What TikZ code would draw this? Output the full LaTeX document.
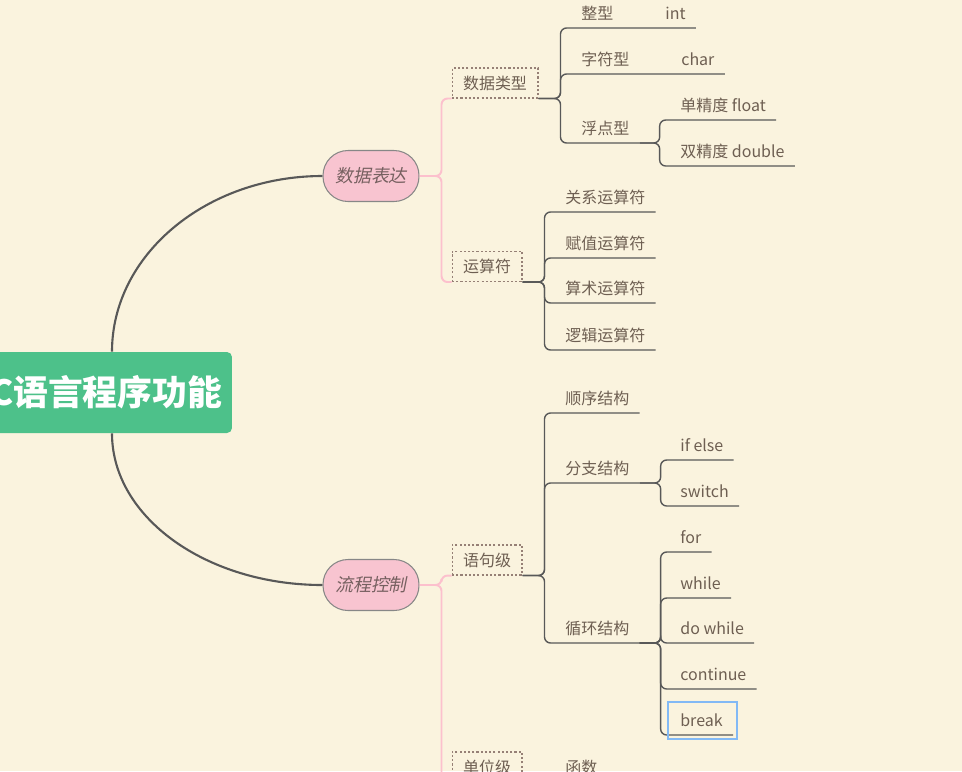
\documentclass[tikz,border=0pt]{standalone}
\usepackage{fontspec}
\setmainfont{Noto Sans CJK SC}
\newfontfamily\topicfont[FakeSlant=0.2]{Noto Sans CJK SC}
\definecolor{bgCream}{RGB}{250,243,222}
\definecolor{rootGreen}{RGB}{77,193,138}
\definecolor{nodePink}{RGB}{248,196,208}
\definecolor{nodeEdge}{RGB}{135,135,135}
\definecolor{linePink}{RGB}{252,192,205}
\definecolor{lineDark}{RGB}{88,88,88}
\definecolor{labelText}{RGB}{110,95,82}
\definecolor{topicText}{RGB}{118,96,96}
\definecolor{boxEdge}{RGB}{150,128,118}
\definecolor{selBlue}{RGB}{130,185,245}

\begin{document}
\begin{tikzpicture}[x=0.02cm,y=-0.02cm,
    root/.style={fill=rootGreen,rounded corners=0.1cm,minimum width=5.04cm,minimum height=1.62cm,inner xsep=0pt,text=white,font=\bfseries\fontsize{19.8pt}{22pt}\selectfont},
    main/.style={draw=nodeEdge,fill=nodePink,line width=0.6pt,rounded corners=0.5cm,minimum width=1.92cm,minimum height=1.02cm,text=topicText,font=\topicfont\fontsize{10.2pt}{12pt}\selectfont},
    sub/.style={draw=boxEdge,line width=0.6pt,dash pattern=on 1.2pt off 1.2pt,inner xsep=0.22cm,inner ysep=0pt,minimum height=0.6cm,text=labelText,font=\fontsize{9.1pt}{11pt}\selectfont},
    lbl/.style={anchor=south west,inner xsep=0.2cm,inner ysep=0pt,text height=0.3cm,text depth=0.16cm,text=labelText,font=\fontsize{9.1pt}{11pt}\selectfont},
    trunk/.style={draw=lineDark,line width=1.2pt},
    pk/.style={draw=linePink,line width=1.1pt,rounded corners=0.12cm},
    br/.style={draw=lineDark,line width=0.8pt,rounded corners=0.12cm},
    selbox/.style={draw=selBlue,line width=1.1pt}
  ]
    \fill[bgCream] (0,0) rectangle (962,771);
    \useasboundingbox (0,0) rectangle (962,771);

    \node (root) at (106,392.5) [root] {C语言程序功能};
    \node (sjbd) at (371,176) [main] {数据表达};
    \node (lckz) at (371,585) [main] {流程控制};

    \draw[trunk] ([shift={(6,0)}]root.north) .. controls +(0,-97) and +(-116,0) .. (sjbd.west);
    \draw[trunk] ([shift={(6,0)}]root.south) .. controls +(0,84) and +(-116,0) .. (lckz.west);

    \node (sjlx) at (495,83) [sub] {数据类型};
    \node (ysf) at (487,266.5) [sub] {运算符};
    \node (yjj) at (487,560) [sub] {语句级};
    \node (dwj) at (487,767) [sub] {单位级};

    \draw[pk] (sjbd.east) -- ++(22,0) |- (sjlx.south west);
    \draw[pk] (sjbd.east) -- ++(22,0) |- (ysf.south west);
    \draw[pk] (lckz.east) -- ++(22,0) |- (yjj.south west);
    \draw[pk] (lckz.east) -- ++(22,0) |- (dwj.south west);

    \node (zx) at (571,28) [lbl] {整型};
    \node (int) at (655,28) [lbl] {int};
    \node (zfx) at (571,74) [lbl] {字符型};
    \node (chr) at (671,74) [lbl] {char};
    \node (fdx) at (571,143) [lbl] {浮点型};
    \node (dj) at (670,120) [lbl] {单精度 float};
    \node (sj) at (670,166) [lbl] {双精度 double};

    \draw[br] (sjlx.south east) -- ++(22,0) |- (zx.south east) -- (int.south east);
    \draw[br] (sjlx.south east) -- ++(22,0) |- (zfx.south east) -- (chr.south east);
    \draw[br] (sjlx.south east) -- ++(22,0) |- (fdx.south east);
    \draw[br] (fdx.south east) -- ++(20,0) |- (dj.south east);
    \draw[br] (fdx.south east) -- ++(20,0) |- (sj.south east);

    \node (gxys) at (555,212) [lbl] {关系运算符};
    \node (fzys) at (555,258) [lbl] {赋值运算符};
    \node (ssys) at (555,303) [lbl] {算术运算符};
    \node (ljys) at (555,350) [lbl] {逻辑运算符};

    \draw[br] (ysf.south east) -- ++(22,0) |- (gxys.south east);
    \draw[br] (ysf.south east) -- ++(22,0) |- (fzys.south east);
    \draw[br] (ysf.south east) -- ++(22,0) |- (ssys.south east);
    \draw[br] (ysf.south east) -- ++(22,0) |- (ljys.south east);

    \node (sxjg) at (555,413) [lbl] {顺序结构};
    \node (fzjg) at (555,483) [lbl] {分支结构};
    \node (xhjg) at (555,643) [lbl] {循环结构};
    \node (ife) at (670,460) [lbl] {if else};
    \node (swt) at (670,506) [lbl] {switch};
    \node (fr) at (670,552) [lbl] {for};
    \node (wh) at (670,598) [lbl] {while};
    \node (dw) at (670,643) [lbl] {do while};
    \node (ct) at (670,689) [lbl] {continue};
    \node (bk) at (670,735) [lbl] {break};
    \node (hs) at (555,782) [lbl] {函数};

    \draw[br] (yjj.south east) -- ++(22,0) |- (sxjg.south east);
    \draw[br] (yjj.south east) -- ++(22,0) |- (fzjg.south east);
    \draw[br] (yjj.south east) -- ++(22,0) |- (xhjg.south east);
    \draw[br] (fzjg.south east) -- ++(21,0) |- (ife.south east);
    \draw[br] (fzjg.south east) -- ++(21,0) |- (swt.south east);
    \draw[br] (xhjg.south east) -- ++(21,0) |- (fr.south east);
    \draw[br] (xhjg.south east) -- ++(21,0) |- (wh.south east);
    \draw[br] (xhjg.south east) -- ++(21,0) |- (dw.south east);
    \draw[br] (xhjg.south east) -- ++(21,0) |- (ct.south east);
    \draw[br] (xhjg.south east) -- ++(21,0) |- (bk.south east);
    \draw[br] (dwj.south east) -- (hs.south east);

    \draw[selbox] ([shift={(-2,4)}]bk.south west) rectangle ([shift={(4,-9)}]bk.north east);
\end{tikzpicture}
\end{document}
